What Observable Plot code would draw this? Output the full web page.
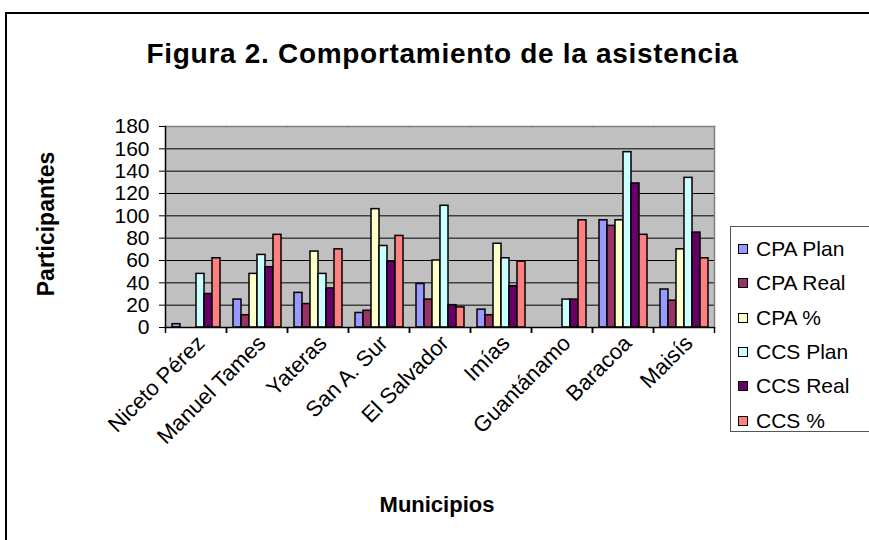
<!DOCTYPE html>
<html><head><meta charset="utf-8">
<script src="https://cdn.jsdelivr.net/npm/d3@7"></script>
<script src="https://cdn.jsdelivr.net/npm/@observablehq/plot@0.6"></script>
<style>
body{margin:0;background:#fff;overflow:hidden;font-family:"Liberation Sans",Arial,sans-serif;color:#000;}
#wrap{position:relative;width:869px;height:540px;overflow:hidden;}
#border{position:absolute;left:5px;top:12px;width:1000px;height:1000px;border:2px solid #000;box-sizing:border-box;}
#chart{position:absolute;left:0;top:0;}
#title{position:absolute;left:0;top:38px;width:885px;text-align:center;font-weight:bold;font-size:28px;letter-spacing:0.7px;white-space:nowrap;}
#ylab{position:absolute;left:46px;top:224px;transform:translate(-50%,-50%) rotate(-90deg);font-weight:bold;font-size:23px;white-space:nowrap;}
#xlab{position:absolute;left:437px;top:505px;transform:translate(-50%,-50%);font-weight:bold;font-size:22px;white-space:nowrap;}
#legend{position:absolute;left:730px;top:226px;width:300px;height:206px;border:1.5px solid #555;box-sizing:border-box;background:#fff;}
.item{position:absolute;left:7px;font-size:21px;white-space:nowrap;display:flex;align-items:center;}
.sw{width:8px;height:8px;border:1.5px solid #000;margin-right:8px;}
</style></head><body>
<div id="wrap">
<div id="border"></div>
<div id="chart"></div>
<div id="title"></div>
<div id="ylab"></div>
<div id="xlab"></div>
<div id="legend"></div>
</div>
<script>
const titleText = "Figura 2. Comportamiento de la asistencia";
const yLabel = "Participantes";
const xLabel = "Municipios";
const municipios = ["Niceto Pérez","Manuel Tames","Yateras","San A. Sur","El Salvador","Imías","Guantánamo","Baracoa","Maisís"];
const series = ["CPA Plan","CPA Real","CPA %","CCS Plan","CCS Real","CCS %"];
const cpaPlan = [3, 25, 31, 13, 39, 16, 0, 96, 34];
const cpaReal = [0, 11, 21, 15, 25, 11, 0, 91, 24];
const cpaPct  = [0, 48, 68, 106, 60, 75, 0, 96, 70];
const ccsPlan = [48, 65, 48, 73, 109, 62, 25, 157, 134];
const ccsReal = [30, 54, 35, 59, 20, 37, 25, 129, 85];
const ccsPct  = [62, 83, 70, 82, 18, 59, 96, 83, 62];
const yTicks = [0, 20, 40, 60, 80, 100, 120, 140, 160, 180];
const colors = ["#9999FF","#993366","#FFFFCC","#CCFFFF","#660066","#FF8080"];

const seriesValues = [cpaPlan, cpaReal, cpaPct, ccsPlan, ccsReal, ccsPct];
const data = [];
seriesValues.forEach((arr, si) => arr.forEach((v, mi) => data.push({m: municipios[mi], s: series[si], v})));

const W = 869, H = 540, ML = 165, MR = 155, MT = 126, MB = 213;
const step = (W - ML - MR) / municipios.length;

const chart = Plot.plot({
  width: W, height: H,
  marginLeft: ML, marginRight: MR, marginTop: MT, marginBottom: MB,
  style: {fontFamily: "Liberation Sans, Arial, sans-serif", fontSize: "21px", color: "#000", background: "transparent", overflow: "visible"},
  fx: {domain: municipios, padding: 0, axis: null},
  x: {domain: series, paddingInner: 0, paddingOuter: 0.69, axis: null},
  y: {domain: [0, 180], axis: null},
  color: {domain: series, range: colors},
  marks: [
    Plot.frame({fill: "#C0C0C0", stroke: null, shapeRendering: "crispEdges"}),
    Plot.gridY(yTicks, {stroke: "#000", strokeOpacity: 1, strokeWidth: 1}),
    Plot.frame({anchor: "top", stroke: "#808080", strokeWidth: 1.5}),
    Plot.frame({anchor: "right", fx: [municipios[municipios.length - 1]], stroke: "#808080", strokeWidth: 1.5}),
    Plot.barY(data, {filter: d => d.v > 0, fx: "m", x: "s", y: "v", fill: "s", stroke: "#000", strokeWidth: 1.5}),
    Plot.ruleY([0], {stroke: "#000", strokeWidth: 1.5}),
    Plot.frame({anchor: "left", fx: [municipios[0]], stroke: "#000", strokeWidth: 1.5}),
    Plot.axisY(yTicks, {tickSize: 6, tickPadding: 10, fontSize: 21, label: null, stroke: "#000"}),
    Plot.axisFx({anchor: "bottom", tickSize: 0, tickRotate: -45, tickPadding: 12, dx: 5, fontSize: 22, label: null}),
    Plot.axisFx({anchor: "bottom", tickSize: 6, tickFormat: () => "", dx: -step / 2, label: null, stroke: "#000", strokeWidth: 1.5}),
    Plot.axisFx([municipios[municipios.length - 1]], {anchor: "bottom", tickSize: 6, tickFormat: () => "", dx: step / 2, label: null, stroke: "#000", strokeWidth: 1.5})
  ]
});
document.getElementById("chart").appendChild(chart);

document.getElementById("title").textContent = titleText;
document.getElementById("ylab").textContent = yLabel;
document.getElementById("xlab").textContent = xLabel;

const legend = document.getElementById("legend");
series.forEach((s, i) => {
  const it = document.createElement("div");
  it.className = "item";
  it.style.top = (23 + i * 34.3 - 13) + "px";
  const sw = document.createElement("span");
  sw.className = "sw";
  sw.style.background = colors[i];
  const t = document.createElement("span");
  t.textContent = s;
  it.appendChild(sw); it.appendChild(t);
  legend.appendChild(it);
});
</script>
</body></html>
